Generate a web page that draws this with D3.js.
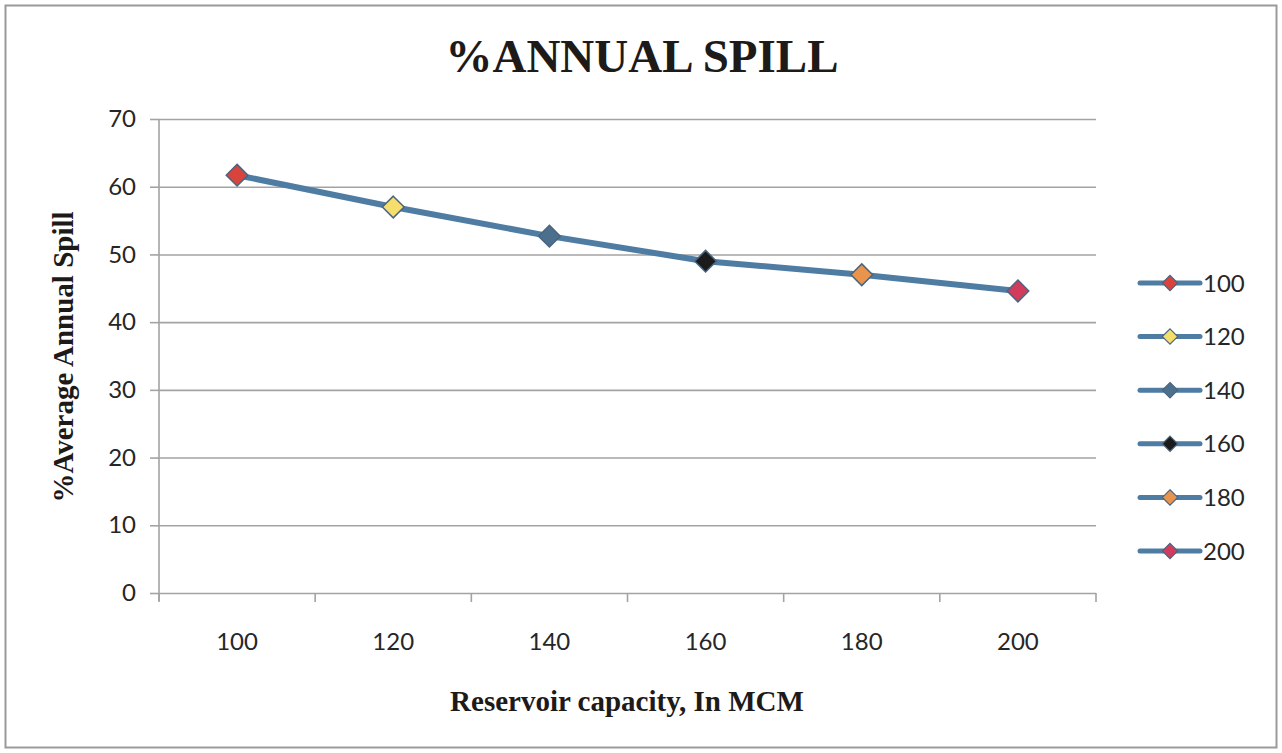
<!DOCTYPE html>
<html>
<head>
<meta charset="utf-8">
<script src="https://cdn.jsdelivr.net/npm/d3@7"></script>
<style>
  html, body { margin: 0; padding: 0; background: #fff; }
  svg { display: block; }
</style>
</head>
<body>
<svg id="chart" width="1282" height="753"></svg>
<script>
// Reservoir capacity (MCM) and resulting % average annual spill
const capacities = ["100", "120", "140", "160", "180", "200"];
const spillPct = [61.7, 57.0, 52.7, 49.0, 47.0, 44.6];
const markerColors = ["#d8443c", "#f6de6c", "#4d6f8e", "#1b1b1b", "#e8944c", "#d23c5c"];
const yTicks = [0, 10, 20, 30, 40, 50, 60, 70];

const svg = d3.select("#chart");
const W = 1282, H = 753;
const plot = { left: 159, right: 1096, top: 119, bottom: 593 };

// outer frame
svg.append("rect")
  .attr("x", 5.5).attr("y", 5.5)
  .attr("width", W - 11).attr("height", H - 11)
  .attr("fill", "#fff").attr("stroke", "#9a9a9a").attr("stroke-width", 2);

const x = d3.scaleBand().domain(capacities).range([plot.left, plot.right]);
const y = d3.scaleLinear().domain([0, 70]).range([plot.bottom, plot.top]);

const gridColor = "#a3a3a3";
const labelFont = "Lato, 'Open Sans', sans-serif";
const serif = "'Liberation Serif', 'DejaVu Serif', serif";
const textColor = "#262626";

// horizontal gridlines + y axis
const yAxis = svg.append("g")
  .attr("transform", `translate(${plot.left},0)`)
  .call(d3.axisLeft(y).tickValues(yTicks).tickSize(9).tickPadding(14));
yAxis.select(".domain").remove();
yAxis.selectAll(".tick line").attr("stroke", gridColor).attr("stroke-width", 1.6);
yAxis.selectAll(".tick").append("line")
  .attr("x1", 0).attr("x2", plot.right - plot.left)
  .attr("stroke", gridColor).attr("stroke-width", 1.6);
yAxis.selectAll(".tick text")
  .attr("font-family", labelFont).attr("font-size", 24).attr("fill", textColor);

// vertical axis line
svg.append("line")
  .attr("x1", plot.left).attr("x2", plot.left)
  .attr("y1", plot.top).attr("y2", plot.bottom + 8)
  .attr("stroke", gridColor).attr("stroke-width", 1.6);

// x axis: ticks at category boundaries, labels centred in bands
const boundaries = capacities.map(c => x(c)).concat([x(capacities[capacities.length - 1]) + x.bandwidth()]);
const xAxis = svg.append("g");
xAxis.selectAll("line.xt").data(boundaries).join("line")
  .attr("class", "xt")
  .attr("x1", d => d).attr("x2", d => d)
  .attr("y1", plot.bottom).attr("y2", plot.bottom + 9)
  .attr("stroke", gridColor).attr("stroke-width", 1.6);
xAxis.selectAll("text").data(capacities).join("text")
  .attr("x", d => x(d) + x.bandwidth() / 2)
  .attr("y", 650)
  .attr("text-anchor", "middle")
  .attr("font-family", labelFont).attr("font-size", 24).attr("fill", textColor)
  .text(d => d);

// series line
const pts = capacities.map((c, i) => ({ c, v: spillPct[i], color: markerColors[i] }));
const lineColor = "#4f7ca2";
svg.append("path")
  .datum(pts)
  .attr("fill", "none")
  .attr("stroke", lineColor).attr("stroke-width", 6)
  .attr("stroke-linejoin", "round").attr("stroke-linecap", "round")
  .attr("d", d3.line().x(d => x(d.c) + x.bandwidth() / 2).y(d => y(d.v)));

const diamond = d3.symbol().type(d3.symbolDiamond2).size(300);
svg.selectAll("path.mk").data(pts).join("path")
  .attr("class", "mk")
  .attr("transform", d => `translate(${x(d.c) + x.bandwidth() / 2},${y(d.v)})`)
  .attr("d", diamond)
  .attr("fill", d => d.color)
  .attr("stroke", "#4a6580").attr("stroke-width", 1.5);

// legend
const legend = svg.append("g");
const legY = d3.scalePoint().domain(capacities).range([283, 551]);
const items = legend.selectAll("g").data(pts).join("g")
  .attr("transform", d => `translate(0,${legY(d.c)})`);
items.append("line")
  .attr("x1", 1140).attr("x2", 1200)
  .attr("stroke", lineColor).attr("stroke-width", 5).attr("stroke-linecap", "round");
items.append("path")
  .attr("transform", "translate(1170,0)")
  .attr("d", d3.symbol().type(d3.symbolDiamond2).size(150))
  .attr("fill", d => d.color)
  .attr("stroke", "#4a6580").attr("stroke-width", 1.2);
items.append("text")
  .attr("x", 1203).attr("y", 0).attr("dy", "0.36em")
  .attr("font-family", labelFont).attr("font-size", 24).attr("fill", textColor)
  .text(d => d.c);

// titles
svg.append("text")
  .attr("x", 642).attr("y", 72)
  .attr("text-anchor", "middle")
  .attr("font-family", serif).attr("font-weight", "bold").attr("font-size", 47)
  .attr("fill", "#1e1a18")
  .text("%ANNUAL SPILL");

svg.append("text")
  .attr("x", 627).attr("y", 711)
  .attr("text-anchor", "middle")
  .attr("font-family", serif).attr("font-weight", "bold").attr("font-size", 29)
  .attr("fill", "#1e1a18")
  .text("Reservoir capacity, In MCM");

svg.append("text")
  .attr("transform", "translate(73,357) rotate(-90)")
  .attr("text-anchor", "middle")
  .attr("font-family", serif).attr("font-weight", "bold").attr("font-size", 29)
  .attr("fill", "#1e1a18")
  .text("%Average Annual Spill");
</script>
</body>
</html>
